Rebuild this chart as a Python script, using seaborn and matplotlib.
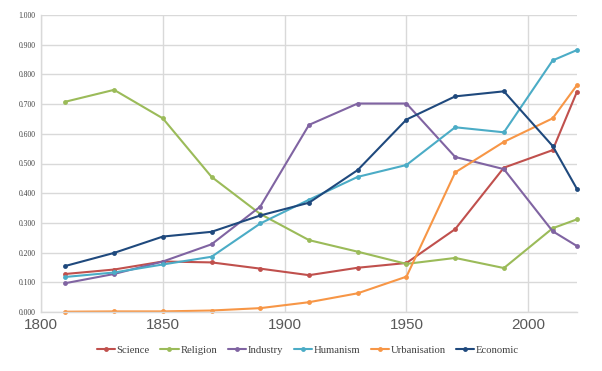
import numpy as np
import pandas as pd
import matplotlib
matplotlib.use("Agg")
import matplotlib.pyplot as plt
import seaborn as sns

# --- data
years = [1810, 1830, 1850, 1870, 1890, 1910, 1930, 1950, 1970, 1990, 2010, 2020]
science = [0.128, 0.143, 0.170, 0.167, 0.146, 0.124, 0.149, 0.165, 0.279, 0.486, 0.545, 0.742]
religion = [0.708, 0.748, 0.652, 0.455, 0.330, 0.242, 0.203, 0.162, 0.182, 0.148, 0.282, 0.312]
industry = [0.097, 0.128, 0.170, 0.228, 0.355, 0.630, 0.702, 0.702, 0.522, 0.481, 0.272, 0.222]
humanism = [0.118, 0.133, 0.160, 0.186, 0.298, 0.378, 0.455, 0.495, 0.622, 0.605, 0.847, 0.882]
urbanisation = [0.001, 0.002, 0.002, 0.005, 0.013, 0.033, 0.063, 0.119, 0.470, 0.573, 0.652, 0.764]
economic = [0.155, 0.199, 0.254, 0.270, 0.325, 0.368, 0.478, 0.648, 0.726, 0.743, 0.559, 0.414]

seriesNames = ["Science", "Religion", "Industry", "Humanism", "Urbanisation", "Economic"]
seriesVals = [science, religion, industry, humanism, urbanisation, economic]
colors = ["#C0504D", "#9BBB59", "#8064A2", "#4BACC6", "#F79646", "#1F497D"]

df = pd.concat(
    [pd.DataFrame({"year": years, "value": vals, "series": name})
     for (name, vals) in zip(seriesNames, seriesVals)],
    ignore_index=True,
)

sns.set_style("white")
fig = plt.figure(figsize=(6.02, 3.71), dpi=100)
ax = fig.add_axes([41 / 602, 1 - 312 / 371, (577 - 41) / 602, (312 - 15) / 371])

sns.lineplot(
    ax=ax, data=df, x="year", y="value", hue="series",
    hue_order=seriesNames, palette=colors,
    marker="o", markersize=3.5, markeredgewidth=0, linewidth=1.5,
)
for line in ax.get_lines():
    line.set_clip_on(False)

ax.set_xlim(1800, 2020)
ax.set_ylim(0, 1.0)
ax.set_xticks([1800, 1850, 1900, 1950, 2000])
ax.set_yticks(np.arange(0, 1.01, 0.1))
ax.set_yticklabels(["{:.3f}".format(v) for v in np.arange(0, 1.01, 0.1)],
                   fontsize=5.5, family="Liberation Serif", color="#404040")
ax.set_xticklabels([str(v) for v in [1800, 1850, 1900, 1950, 2000]],
                   fontsize=11, family="Liberation Sans", color="#595959")
ax.tick_params(axis="both", length=0, pad=4)
ax.set_xlabel("")
ax.set_ylabel("")
ax.grid(True, color="#D9D9D9", linewidth=1.0)
ax.set_axisbelow(True)
for side in ["top", "right"]:
    ax.spines[side].set_visible(False)
for side in ["left", "bottom"]:
    ax.spines[side].set_color("#D9D9D9")
    ax.spines[side].set_linewidth(1.0)

handles, labels = ax.get_legend_handles_labels()
ax.legend(
    handles, labels, loc="center", bbox_to_anchor=(308 / 602, 1 - 350 / 371),
    bbox_transform=fig.transFigure, ncol=6, frameon=False,
    prop={"family": "Liberation Serif", "size": 7.7}, handlelength=1.7,
    columnspacing=1.0, handletextpad=0.15,
)
for txt in ax.get_legend().get_texts():
    txt.set_color("#404040")

plt.savefig("out.png", dpi=100)
plt.close()
